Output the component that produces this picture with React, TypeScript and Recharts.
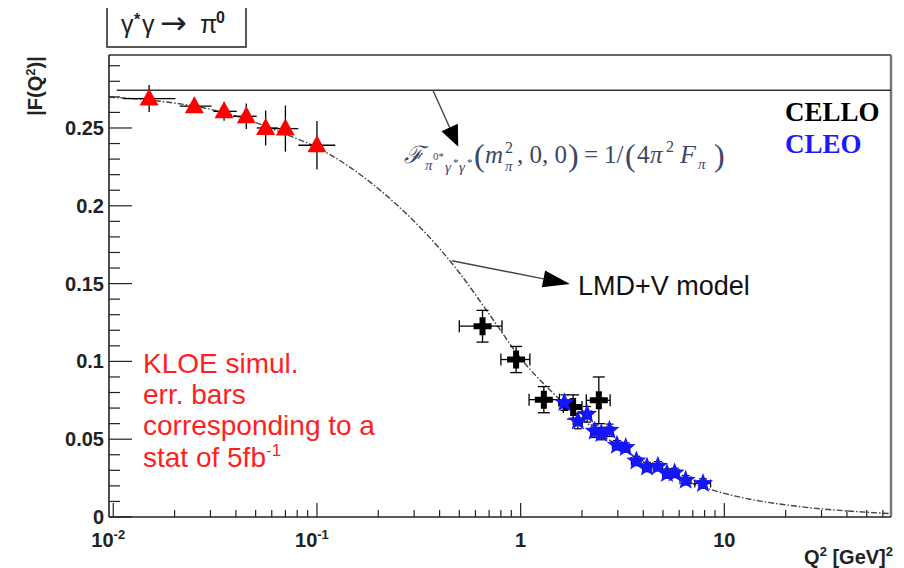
import { ComposedChart, Line, Scatter, ErrorBar, XAxis, YAxis, ReferenceLine } from "recharts"

const X_MIN = 0.00953
const X_MAX = 65.8
const Y_MAX = 0.2969
const F0 = 0.2742 // 1/(4 pi^2 F_pi)

// KLOE simulation, red triangles
const kloeQ2 = [0.015, 0.025, 0.035, 0.045, 0.056, 0.07, 0.1]
const kloeF = [0.2689, 0.264, 0.2607, 0.2575, 0.25, 0.2496, 0.2389]
const kloeErr = [0.0087, 0.003, 0.006, 0.0082, 0.0112, 0.0148, 0.0156]
const kloeLo = [0.0112, 0.0212, 0.031, 0.0387, 0.0506, 0.0588, 0.081]
const kloeHi = [0.0202, 0.0304, 0.0404, 0.0506, 0.0643, 0.081, 0.123]

// CELLO, black crosses
const celloQ2 = [0.65, 0.95, 1.3, 1.81, 2.42]
const celloF = [0.1226, 0.1012, 0.0754, 0.0707, 0.075]
const celloErr = [0.0102, 0.0084, 0.0084, 0.0078, 0.015]
const celloLo = [0.5, 0.8, 1.1, 1.62, 2.1]
const celloHi = [0.81, 1.11, 1.55, 2.0, 2.75]

// CLEO, blue stars
const cleoQ2 = [1.64, 1.91, 2.12, 2.31, 2.49, 2.73, 2.97, 3.28, 3.7, 4.17, 4.72, 5.23, 5.7, 6.46, 7.86]
const cleoF = [0.0735, 0.0617, 0.066, 0.0551, 0.0536, 0.0557, 0.0461, 0.0446, 0.036, 0.0321, 0.0326, 0.0279, 0.0283, 0.0236, 0.0215]
const cleoErr = [0.005, 0.005, 0.005, 0.004, 0.004, 0.004, 0.003, 0.003, 0.003, 0.003, 0.003, 0.003, 0.003, 0.003, 0.003]
const cleoXErr = [0.1, 0.1, 0.1, 0.1, 0.1, 0.1, 0.15, 0.15, 0.2, 0.2, 0.25, 0.25, 0.3, 0.4, 0.7]

// LMD+V model curve
const modelQ2 = [0.00953, 0.015, 0.02, 0.03, 0.05, 0.07, 0.1, 0.15, 0.2, 0.3, 0.4, 0.5, 0.7, 1, 1.5, 2, 3, 4, 5, 7, 10, 15, 20, 30, 40, 65]
const modelF = [0.2698, 0.268, 0.266, 0.262, 0.2535, 0.246, 0.2375, 0.2235, 0.211, 0.19, 0.1725, 0.157, 0.1305, 0.102, 0.0775, 0.063, 0.0457, 0.0358, 0.0294, 0.0214, 0.0152, 0.0102, 0.0078, 0.0052, 0.0039, 0.0022]

const xMajor = [0.01, 0.1, 1, 10]
const xMajorBase = ["10", "10", "1", "10"]
const xMajorExp = ["-2", "-1", "", ""]
const xMinor = [0.02, 0.03, 0.04, 0.05, 0.06, 0.07, 0.08, 0.09, 0.2, 0.3, 0.4, 0.5, 0.6, 0.7, 0.8, 0.9, 2, 3, 4, 5, 6, 7, 8, 9, 20, 30, 40, 50, 60]

const yTicks = [0, 0.01, 0.02, 0.03, 0.04, 0.05, 0.06, 0.07, 0.08, 0.09, 0.1, 0.11, 0.12, 0.13, 0.14, 0.15, 0.16, 0.17, 0.18, 0.19, 0.2, 0.21, 0.22, 0.23, 0.24, 0.25, 0.26, 0.27, 0.28, 0.29]
const yMajor = [0, 0.05, 0.1, 0.15, 0.2, 0.25]
const yMajorLabels = ["0", "0.05", "0.1", "0.15", "0.2", "0.25"]

const kloeData = kloeQ2.map((q, i) => ({ q2: q, f: kloeF[i], ey: kloeErr[i], ex: [q - kloeLo[i], kloeHi[i] - q] }))
const celloData = celloQ2.map((q, i) => ({ q2: q, f: celloF[i], ey: celloErr[i], ex: [q - celloLo[i], celloHi[i] - q] }))
const cleoData = cleoQ2.map((q, i) => ({ q2: q, f: cleoF[i], ey: cleoErr[i], ex: cleoXErr[i] }))
const modelData = modelQ2.map((q, i) => ({ q2: q, f: modelF[i] }))

const SANS = "'Liberation Sans', Arial, sans-serif"
const SERIF = "'Liberation Serif', 'Times New Roman', serif"

const near = (a: number, b: number) => Math.abs(a - b) < 1e-9

function XTick({ x, y, payload }: any) {
  const i = xMajor.findIndex((v) => near(v, payload.value))
  if (i < 0) return <line x1={x} y1={y} x2={x} y2={y - 7} stroke="#222" strokeWidth={1.2} />
  const exp = xMajorExp[i]
  return (
    <g>
      <line x1={x} y1={y} x2={x} y2={y - 14} stroke="#222" strokeWidth={1.2} />
      <text x={x + (exp ? -5 : 0)} y={y + 30} textAnchor="middle" fontFamily={SANS} fontWeight="bold" fontSize={20} fill="#222">
        {xMajorBase[i]}
        {exp && (
          <tspan fontSize={13} dy={-8}>
            {exp}
          </tspan>
        )}
      </text>
    </g>
  )
}

function YTick({ x, y, payload }: any) {
  const i = yMajor.findIndex((v) => near(v, payload.value))
  if (i < 0) return <line x1={x} y1={y} x2={x + 11} y2={y} stroke="#222" strokeWidth={1.2} />
  return (
    <g>
      <line x1={x} y1={y} x2={x + 23} y2={y} stroke="#222" strokeWidth={1.2} />
      <text x={x - 5} y={y + 7} textAnchor="end" fontFamily={SANS} fontWeight="bold" fontSize={20} fill="#222">
        {yMajorLabels[i]}
      </text>
    </g>
  )
}

const triangle = ({ cx, cy }: any) => (
  <polygon points={`${cx},${cy - 10} ${cx - 9.5},${cy + 7} ${cx + 9.5},${cy + 7}`} fill="#ff0000" />
)

const cross = ({ cx, cy }: any) => (
  <path d={`M${cx - 3},${cy - 9}h6v6h6v6h-6v6h-6v-6h-6v-6h6z`} fill="#000" />
)

const star = ({ cx, cy }: any) => {
  const pts: string[] = []
  for (let k = 0; k < 10; k++) {
    const r = k % 2 === 0 ? 10.5 : 4.5
    const a = -Math.PI / 2 + (k * Math.PI) / 5
    pts.push(`${cx + r * Math.cos(a)},${cy + r * Math.sin(a)}`)
  }
  return <polygon points={pts.join(" ")} fill="#1515ff" />
}

const arrow = (headLen: number, headHalf: number) => (props: any) => {
  const { x1, y1, x2, y2 } = props
  const dx = x2 - x1
  const dy = y2 - y1
  const len = Math.hypot(dx, dy)
  const ux = dx / len
  const uy = dy / len
  const bx = x2 - ux * headLen
  const by = y2 - uy * headLen
  const pts = `${x2},${y2} ${bx - uy * headHalf},${by + ux * headHalf} ${bx + uy * headHalf},${by - ux * headHalf}`
  return (
    <g>
      <line x1={x1} y1={y1} x2={bx} y2={by} stroke="#444" strokeWidth={1.4} />
      <polygon points={pts} fill="#000" />
    </g>
  )
}

export default function App() {
  return (
    <div style={{ position: "absolute", left: 0, top: 0, width: 904, height: 568, background: "#fff" }}>
      <ComposedChart width={904} height={568} margin={{ top: 55, right: 13, bottom: 0, left: 0 }}>
        <XAxis
          dataKey="q2"
          type="number"
          scale="log"
          domain={[X_MIN, X_MAX]}
          allowDataOverflow
          ticks={[...xMajor, ...xMinor]}
          interval={0}
          height={51}
          tickSize={0}
          tickMargin={0}
          tickLine={false}
          tick={<XTick />}
          axisLine={{ stroke: "#222", strokeWidth: 1.6 }}
        />
        <YAxis
          dataKey="f"
          type="number"
          domain={[0, Y_MAX]}
          allowDataOverflow
          ticks={yTicks}
          interval={0}
          width={109}
          tickSize={0}
          tickMargin={0}
          tickLine={false}
          tick={<YTick />}
          axisLine={{ stroke: "#222", strokeWidth: 1.6 }}
        />
        <ReferenceLine y={Y_MAX} stroke="#333" strokeWidth={1.5} />
        <ReferenceLine x={X_MAX} stroke="#777" strokeWidth={2.5} />
        <ReferenceLine segment={[{ x: 0.0104, y: F0 }, { x: X_MAX, y: F0 }]} stroke="#333" strokeWidth={1.5} />
        <ReferenceLine segment={[{ x: 0.371, y: F0 }, { x: 0.494, y: 0.238 }]} shape={arrow(21, 9)} />
        <ReferenceLine segment={[{ x: 0.46, y: 0.1647 }, { x: 1.746, y: 0.1497 }]} shape={arrow(27, 8.5)} />
        <Line
          data={modelData}
          dataKey="f"
          type="monotone"
          stroke="#444"
          strokeWidth={1.4}
          strokeDasharray="6 2 1.5 2"
          dot={false}
          isAnimationActive={false}
        />
        <Scatter data={kloeData} dataKey="f" shape={triangle} isAnimationActive={false}>
          <ErrorBar dataKey="ey" direction="y" width={0} stroke="#000" strokeWidth={1.3} />
          <ErrorBar dataKey="ex" direction="x" width={0} stroke="#000" strokeWidth={1.3} />
        </Scatter>
        <Scatter data={celloData} dataKey="f" shape={cross} isAnimationActive={false}>
          <ErrorBar dataKey="ey" direction="y" width={6} stroke="#000" strokeWidth={1.3} />
          <ErrorBar dataKey="ex" direction="x" width={6} stroke="#000" strokeWidth={1.3} />
        </Scatter>
        <Scatter data={cleoData} dataKey="f" shape={star} isAnimationActive={false}>
          <ErrorBar dataKey="ey" direction="y" width={4} stroke="#000" strokeWidth={1.2} />
          <ErrorBar dataKey="ex" direction="x" width={4} stroke="#000" strokeWidth={1.2} />
        </Scatter>
      </ComposedChart>

      <svg width={904} height={568} style={{ position: "absolute", left: 0, top: 0, pointerEvents: "none" }}>
        <path d="M107,8 V47 H246 V8" fill="none" stroke="#222" strokeWidth={1.5} />
        <text fontFamily={SANS} fill="#222" fontSize={25}>
          <tspan x={121} y={33}>γ</tspan>
          <tspan x={134} y={25} fontSize={16} fontWeight="bold">*</tspan>
          <tspan x={142} y={33}>γ</tspan>
          <tspan x={160} y={34} fontSize={32} fontFamily="'DejaVu Sans', sans-serif">→</tspan>
          <tspan x={200} y={33}>π</tspan>
          <tspan x={216} y={23} fontSize={16} fontWeight="bold">0</tspan>
        </text>

        <text transform="translate(42,86) rotate(-90)" textAnchor="middle" fontFamily={SANS} fontWeight="bold" fontSize={20} fill="#222">
          |F(Q<tspan fontSize={13} dy={-7}>2</tspan>
          <tspan dy={7}>)|</tspan>
        </text>

        <text x={893} y={564} textAnchor="end" fontFamily={SANS} fontWeight="bold" fontSize={20} fill="#222">
          Q<tspan fontSize={13} dy={-8}>2</tspan>
          <tspan dy={8}> [GeV]</tspan>
          <tspan fontSize={13} dy={-8}>2</tspan>
        </text>

        <text x={785} y={121} fontFamily={SERIF} fontWeight="bold" fontSize={27} fill="#000">CELLO</text>
        <text x={785} y={153} fontFamily={SERIF} fontWeight="bold" fontSize={27} fill="#1a1aff">CLEO</text>

        <text fontFamily={SERIF} fill="#3d4763" fontSize={25}>
          <tspan x={404} y={163} fontSize={24} fontStyle="italic">ℱ</tspan>
          <tspan x={425} y={170} fontSize={15} fontStyle="italic">π</tspan>
          <tspan x={433} y={160} fontSize={11}>0*</tspan>
          <tspan x={445} y={172} fontSize={15} fontStyle="italic">γ</tspan>
          <tspan x={453} y={166} fontSize={11}>*</tspan>
          <tspan x={459} y={172} fontSize={15} fontStyle="italic">γ</tspan>
          <tspan x={467} y={166} fontSize={11}>*</tspan>
          <tspan x={474} y={166} fontSize={32}>(</tspan>
          <tspan x={485} y={163} fontStyle="italic">m</tspan>
          <tspan x={505} y={153} fontSize={16}>2</tspan>
          <tspan x={505} y={171} fontSize={15} fontStyle="italic">π</tspan>
          <tspan x={517} y={163}>, 0, 0</tspan>
          <tspan x={568} y={166} fontSize={32}>)</tspan>
          <tspan x={584} y={163}>=</tspan>
          <tspan x={604} y={163}>1/</tspan>
          <tspan x={625} y={166} fontSize={32}>(</tspan>
          <tspan x={637} y={163}>4</tspan>
          <tspan x={650} y={163} fontStyle="italic">π</tspan>
          <tspan x={666} y={152} fontSize={16}>2</tspan>
          <tspan x={680} y={163} fontSize={26} fontStyle="italic">F</tspan>
          <tspan x={698} y={169} fontSize={15} fontStyle="italic">π</tspan>
          <tspan x={714} y={166} fontSize={32}>)</tspan>
        </text>

        <text x={578} y={295} fontFamily={SANS} fontSize={27} fill="#111">LMD+V model</text>

        <g fontFamily={SANS} fontSize={28} fill="#ff1f1f">
          <text x={143} y={373}>KLOE simul.</text>
          <text x={143} y={404}>err. bars</text>
          <text x={143} y={435}>corresponding to a</text>
          <text x={143} y={467}>
            stat of 5fb<tspan fontSize={17} dy={-11}>-1</tspan>
          </text>
        </g>
      </svg>
    </div>
  )
}
